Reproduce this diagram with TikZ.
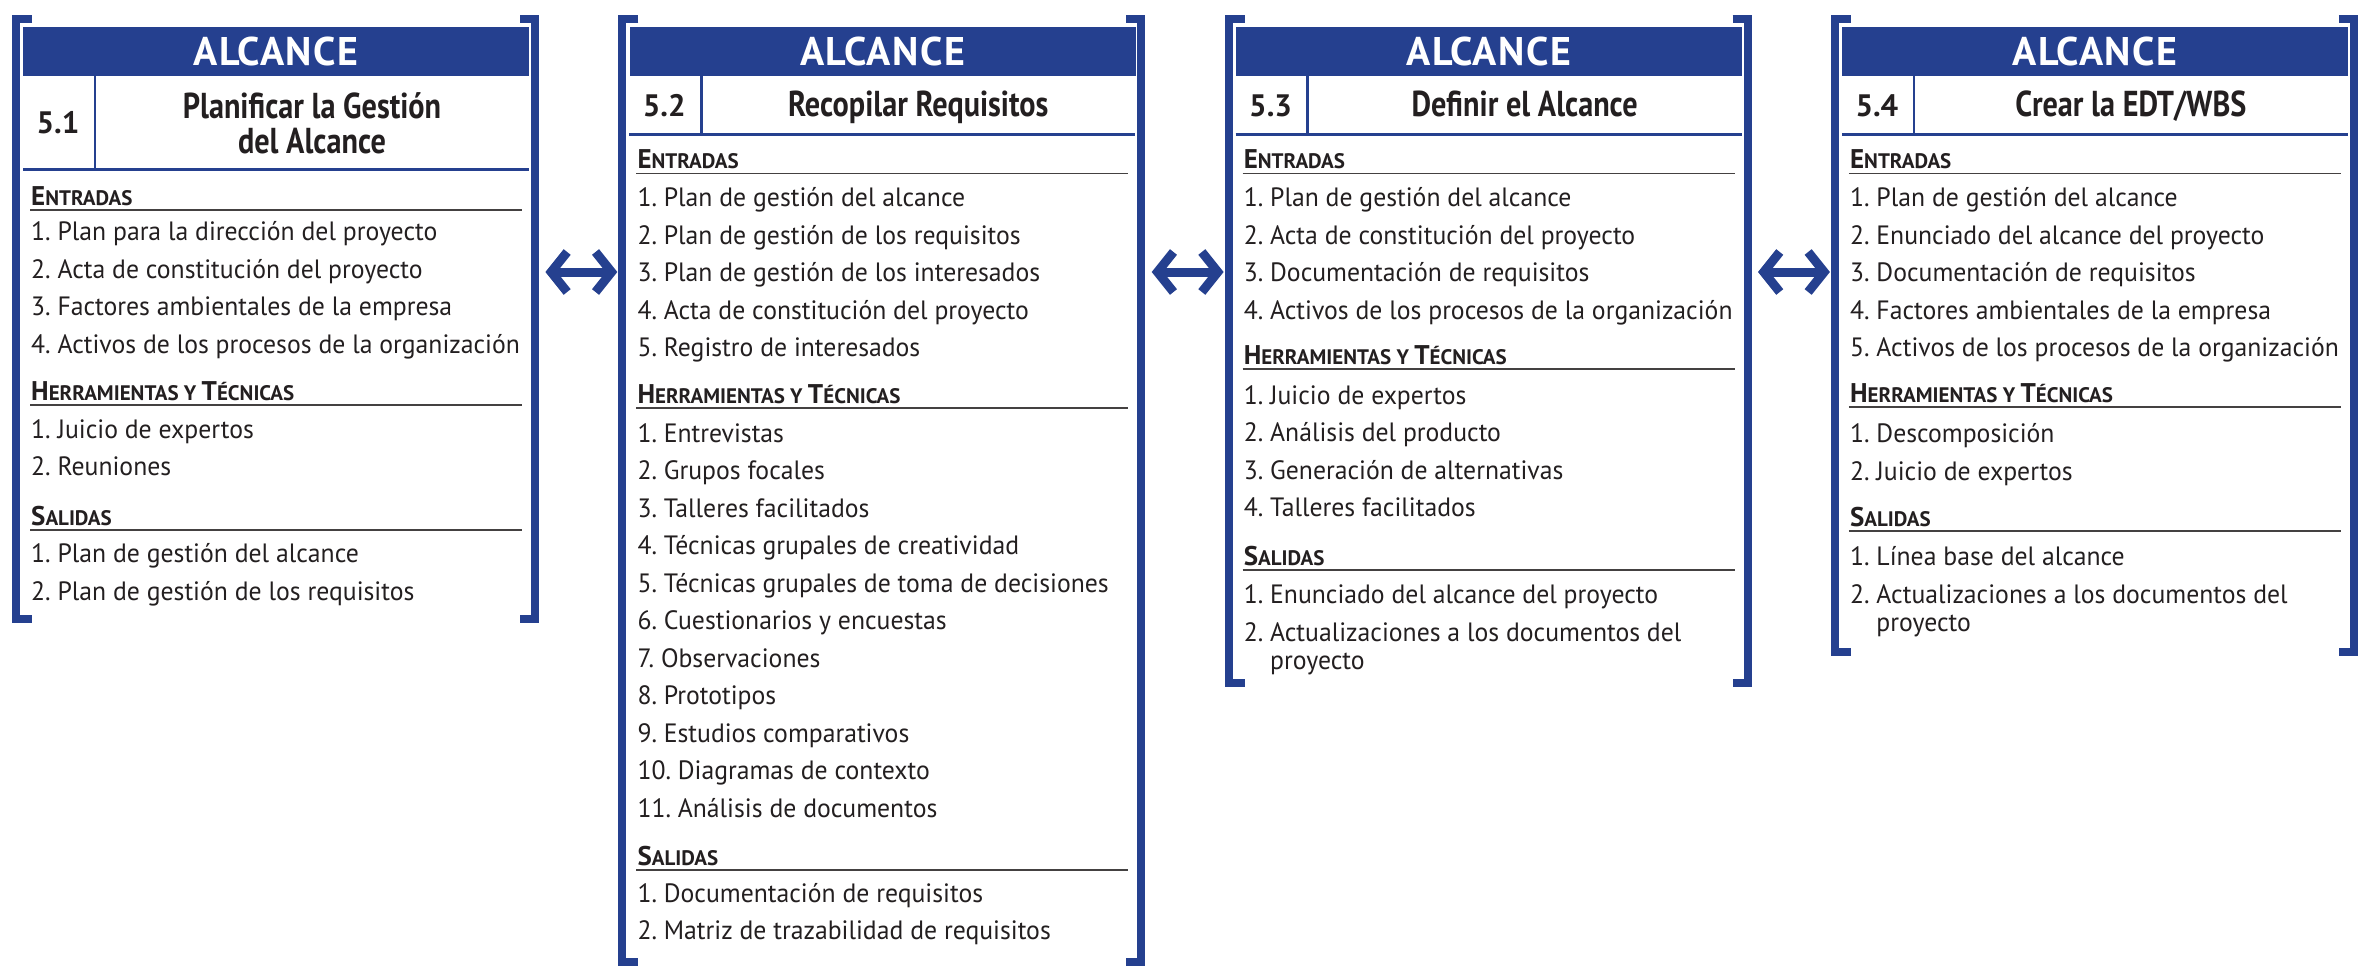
\documentclass[tikz,border=0pt]{standalone}
\usepackage{fontspec}
\setmainfont{PT Sans}
\newfontfamily\condfont{PT Sans}[FakeStretch=0.84]
\newfontfamily\itemfont{PT Sans}[FakeStretch=0.97]
\newfontfamily\hdrfont{PT Sans}[LetterSpace=4]
\usetikzlibrary{arrows.meta,calc}
\definecolor{pmiblue}{HTML}{25408F}
\definecolor{ink}{HTML}{231F20}
\frenchspacing
\newcommand\smc[1]{{\fontsize{21}{21}\selectfont #1}}
\newcommand\procbox[6]{% #1 name, #2 H, #3 rowline y, #4 bottom y, #5 number, #6 number baseline
  \pgfmathsetmacro\Hr{#2+506}%
  \pgfmathsetmacro\Fh{#4-15}%
  \node[frame, minimum height=\Fh pt, anchor=north west] (#1) at (#2-11,15) {};
  \draw[bracket] (#2+9,19) -- (#2-7,19) -- (#2-7,#4-4) -- (#2+9,#4-4);
  \draw[bracket] (\Hr-9,19) -- (\Hr+6,19) -- (\Hr+6,#4-4) -- (\Hr-9,#4-4);
  \node[hdr, anchor=north west] (#1h) at (#2,27) {ALCANCE};
  \draw[sep] (#2,#3) -- (\Hr,#3);
  \draw[divl] (#2+72,76) -- (#2+72,#3);
  \node[num] (#1n) at (#2+35,#6) {#5};
}
\newcommand\sect[4]{% #1 name, #2 H, #3 baseline, #4 text
  \node[sec] (#1) at (#2+8,#3) {#4};
  \draw[rul] (#2+7,#3+5) -- (#2+499,#3+5);
}
\newcommand\itemlist[5]{% #1 prefix, #2 H, #3 first baseline, #4 step, #5 list
  \foreach \itxt [count=\ii] in {#5} {\node[itm] (#1\ii) at (#2+8,#3+#4*\ii-#4) {\itxt};}
}
\begin{document}
\begin{tikzpicture}[x=1pt,y=-1pt,
  frame/.style={inner sep=0, minimum width=527pt, draw=none},
  bracket/.style={draw=pmiblue, line width=8pt, line join=miter, line cap=butt},
  hdr/.style={fill=pmiblue, draw=none, text=white, inner sep=0, minimum width=506pt, minimum height=49pt, font=\hdrfont\bfseries\fontsize{40}{40}\selectfont},
  num/.style={text=ink, anchor=base, inner sep=0, font=\fontsize{31}{31}\selectfont\bfseries},
  ttl/.style={text=ink, anchor=base, inner sep=0, font=\condfont\bfseries\fontsize{36}{34}\selectfont},
  sec/.style={text=ink, anchor=base west, inner sep=0, font=\fontsize{27}{27}\selectfont\bfseries},
  itm/.style={text=ink, anchor=base west, inner sep=0, font=\itemfont\fontsize{26.5}{28}\selectfont},
  rul/.style={draw=ink!85, line width=1.6pt},
  sep/.style={draw=pmiblue, line width=3pt},
  divl/.style={draw=pmiblue, line width=2.5pt},
  dbl/.style={draw=pmiblue, line width=9pt, {Straight Barb[length=16pt,width=40pt]}-{Straight Barb[length=16pt,width=40pt]}}
]
\fill[white] (0,0) rectangle (2359,974);
\useasboundingbox (0,0) rectangle (2359,974);
\coordinate (ar) at (0,272);

% ---- Box 1 ----
\procbox{b1}{23}{169}{623}{5.1}{133.5}
\node[ttl] (b1t) at (23+289,118) {\begin{tabular}[t]{@{}c@{}}Planificar la Gestión\\del Alcance\end{tabular}};
\sect{b1E}{23}{205}{E\smc{NTRADAS}}
\itemlist{b1e}{23}{240.5}{37.6}{1. Plan para la dirección del proyecto,2. Acta de constitución del proyecto,3. Factores ambientales de la empresa,4. Activos de los procesos de la organización}
\sect{b1H}{23}{400}{H\smc{ERRAMIENTAS Y }T\smc{ÉCNICAS}}
\itemlist{b1h}{23}{438}{37.5}{1. Juicio de expertos,2. Reuniones}
\sect{b1S}{23}{525}{S\smc{ALIDAS}}
\itemlist{b1s}{23}{562.5}{38}{1. Plan de gestión del alcance,2. Plan de gestión de los requisitos}

% ---- Box 2 ----
\procbox{b2}{629.3}{134}{966}{5.2}{116}
\node[ttl] (b2t) at (629.3+289,117) {Recopilar Requisitos};
\sect{b2E}{629.3}{168.5}{E\smc{NTRADAS}}
\itemlist{b2e}{629.3}{206.5}{37.6}{1. Plan de gestión del alcance,2. Plan de gestión de los requisitos,3. Plan de gestión de los interesados,4. Acta de constitución del proyecto,5. Registro de interesados}
\sect{b2H}{629.3}{403}{H\smc{ERRAMIENTAS Y }T\smc{ÉCNICAS}}
\itemlist{b2h}{629.3}{442}{37.5}{1. Entrevistas,2. Grupos focales,3. Talleres facilitados,4. Técnicas grupales de creatividad,5. Técnicas grupales de toma de decisiones,6. Cuestionarios y encuestas,7. Observaciones,8. Prototipos,9. Estudios comparativos,10. Diagramas de contexto,11. Análisis de documentos}
\sect{b2S}{629.3}{865}{S\smc{ALIDAS}}
\itemlist{b2s}{629.3}{902}{37}{1. Documentación de requisitos,2. Matriz de trazabilidad de requisitos}

% ---- Box 3 ----
\procbox{b3}{1235.6}{134}{687}{5.3}{116}
\node[ttl] (b3t) at (1235.6+289,117) {Definir el Alcance};
\sect{b3E}{1235.6}{168.5}{E\smc{NTRADAS}}
\itemlist{b3e}{1235.6}{206.5}{37.6}{1. Plan de gestión del alcance,2. Acta de constitución del proyecto,3. Documentación de requisitos,4. Activos de los procesos de la organización}
\sect{b3H}{1235.6}{364}{H\smc{ERRAMIENTAS Y }T\smc{ÉCNICAS}}
\itemlist{b3h}{1235.6}{404}{37.6}{1. Juicio de expertos,2. Análisis del producto,3. Generación de alternativas,4. Talleres facilitados}
\sect{b3S}{1235.6}{565}{S\smc{ALIDAS}}
\node[itm] (b3s1) at (1235.6+8,603) {1. Enunciado del alcance del proyecto};
\node[itm] (b3s2) at (1235.6+8,641) {\vtop{\hbox{2. Actualizaciones a los documentos del}\hbox{\hphantom{2. }proyecto}}};

% ---- Box 4 ----
\procbox{b4}{1841.9}{134}{656}{5.4}{116}
\node[ttl] (b4t) at (1841.9+289,117) {Crear la EDT/WBS};
\sect{b4E}{1841.9}{168.5}{E\smc{NTRADAS}}
\itemlist{b4e}{1841.9}{206.5}{37.6}{1. Plan de gestión del alcance,2. Enunciado del alcance del proyecto,3. Documentación de requisitos,4. Factores ambientales de la empresa,5. Activos de los procesos de la organización}
\sect{b4H}{1841.9}{402}{H\smc{ERRAMIENTAS Y }T\smc{ÉCNICAS}}
\itemlist{b4h}{1841.9}{442.5}{37.5}{1. Descomposición,2. Juicio de expertos}
\sect{b4S}{1841.9}{526}{S\smc{ALIDAS}}
\node[itm] (b4s1) at (1841.9+8,565) {1. Línea base del alcance};
\node[itm] (b4s2) at (1841.9+8,603.5) {\vtop{\hbox{2. Actualizaciones a los documentos del}\hbox{\hphantom{2. }proyecto}}};

% ---- connectors ----
\draw[dbl] ($(b1.east |- ar)+(6,0)$) -- ($(b2.west |- ar)+(-1,0)$);
\draw[dbl] ($(b2.east |- ar)+(6,0)$) -- ($(b3.west |- ar)+(-1,0)$);
\draw[dbl] ($(b3.east |- ar)+(6,0)$) -- ($(b4.west |- ar)+(-1,0)$);
\end{tikzpicture}
\end{document}
